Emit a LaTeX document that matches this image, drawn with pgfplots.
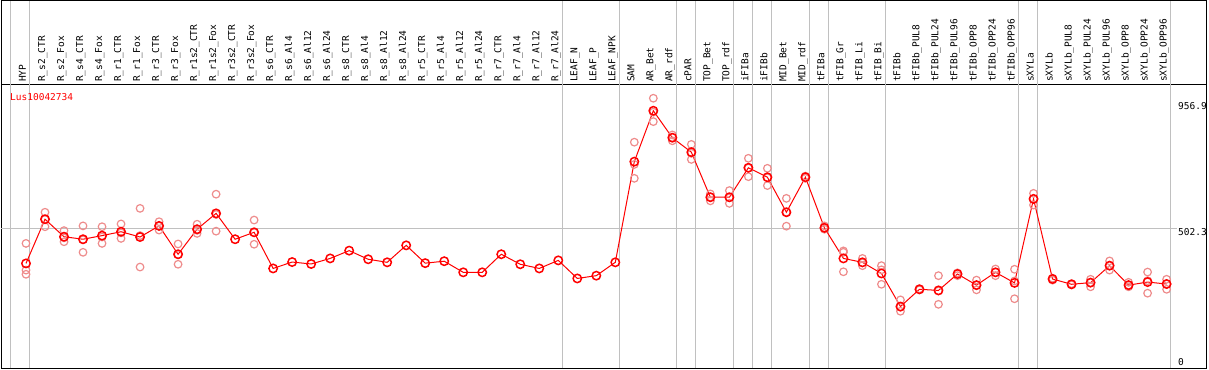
\documentclass[border=0pt]{standalone}
\usepackage{pgfplots}
\pgfplotsset{compat=1.18}
\usepackage{fontspec}
\newfontfamily\pix{DejaVu Sans Mono}
\definecolor{repc}{RGB}{238,140,140}
\definecolor{sepgray}{RGB}{192,192,192}
\begin{document}
\begin{tikzpicture}
\begin{axis}[
  at={(0,0)}, anchor=south west,
  scale only axis, width=1206bp, height=283bp,
  xmin=-1.315, xmax=62.125, ymin=0, ymax=1017.6,
  axis line style={black, line width=1bp},
  xtick={0,...,60},
  xticklabels={HYP,R\_s2\_CTR,R\_s2\_Fox,R\_s4\_CTR,R\_s4\_Fox,R\_r1\_CTR,R\_r1\_Fox,R\_r3\_CTR,R\_r3\_Fox,R\_r1s2\_CTR,R\_r1s2\_Fox,R\_r3s2\_CTR,R\_r3s2\_Fox,R\_s6\_CTR,R\_s6\_Al4,R\_s6\_Al12,R\_s6\_Al24,R\_s8\_CTR,R\_s8\_Al4,R\_s8\_Al12,R\_s8\_Al24,R\_r5\_CTR,R\_r5\_Al4,R\_r5\_Al12,R\_r5\_Al24,R\_r7\_CTR,R\_r7\_Al4,R\_r7\_Al12,R\_r7\_Al24,LEAF\_N,LEAF\_P,LEAF\_NPK,SAM,AR\_Bet,AR\_rdf,cPAR,TOP\_Bet,TOP\_rdf,iFIBa,iFIBb,MID\_Bet,MID\_rdf,tFIBa,tFIB\_Gr,tFIB\_Li,tFIB\_Bi,tFIBb,tFIBb\_PUL8,tFIBb\_PUL24,tFIBb\_PUL96,tFIBb\_OPP8,tFIBb\_OPP24,tFIBb\_OPP96,sXYLa,sXYLb,sXYLb\_PUL8,sXYLb\_PUL24,sXYLb\_PUL96,sXYLb\_OPP8,sXYLb\_OPP24,sXYLb\_OPP96},
  xticklabel pos=upper,
  major tick length=0pt,
  ytick=\empty,
  xticklabel style={yshift=3bp, rotate=90, anchor=base west, inner sep=0pt, font=\pix\fontsize{9.5bp}{10bp}\selectfont},
  clip=false,
]
\pgfplotsinvokeforeach{-0.79,0.21,28.21,31.21,34.21,35.21,37.21,38.21,39.21,41.21,42.21,45.21,52.21,53.21,60.21}{
  \draw[sepgray, line width=1bp] (axis cs:#1,0) -- ([yshift=84.5bp]axis cs:#1,1017.6);
}
\draw[sepgray, line width=1bp] (axis cs:-1.315,502.3) -- (axis cs:60.55,502.3);
\draw[black, line width=1bp] (rel axis cs:0,1) -- ([yshift=84.5bp]rel axis cs:0,1) -- ([yshift=84.5bp]rel axis cs:1,1) -- (rel axis cs:1,1);

\addplot[only marks, mark=o, mark size=3.8bp, mark options={repc, line width=1.2bp}] coordinates {
(0,448)(0,352)(0,337)
(1,560)(1,508)(1,535)
(2,494)(2,454)(2,468)
(3,511)(3,416)(3,461)
(4,508)(4,448)(4,471)
(5,518)(5,466)(5,486)
(6,574)(6,363)(6,476)
(7,526)(7,496)(7,510)
(8,446)(8,373)(8,408)
(9,517)(9,484)(9,495)
(10,625)(10,492)(10,552)
(12,532)(12,445)(12,487)
(32,812)(32,682)(32,732)
(33,970)(33,886)(33,920)
(34,838)(34,817)(34,829)
(35,804)(35,750)(35,772)
(36,626)(36,601)(36,615)
(37,638)(37,592)(37,612)
(38,754)(38,688)(38,719)
(39,718)(39,656)(39,684)
(40,610)(40,510)(40,560)
(41,690)(41,682)
(42,511)(42,499)(42,504)
(43,421)(43,346)(43,416)
(44,394)(44,368)(44,378)
(45,368)(45,301)(45,353)
(46,245)(46,204)(46,219)
(47,285)(47,281)
(48,332)(48,229)(48,277)
(49,342)(49,332)
(50,316)(50,281)(50,298)
(51,356)(51,332)(51,344)
(52,355)(52,249)(52,313)
(53,628)(53,586)(53,609)
(54,323)(54,316)
(55,303)(55,299)
(56,319)(56,292)(56,307)
(57,385)(57,352)(57,368)
(58,308)(58,292)(58,298)
(59,345)(59,269)(59,314)
(60,319)(60,283)(60,302)
};

\addplot[red, line width=1bp, mark=o, mark size=4.2bp, mark options={red, line width=1.5bp}] coordinates {
(0,376)(1,535)(2,472)(3,463)(4,476)(5,490)(6,471)(7,511)(8,409)(9,499)
(10,556)(11,463)(12,488)(13,358)(14,381)(15,374)(16,394)(17,422)(18,391)(19,380)
(20,441)(21,377)(22,384)(23,344)(24,344)(25,409)(26,373)(27,358)(28,387)(29,322)
(30,332)(31,380)(32,742)(33,925)(34,828)(35,776)(36,614)(37,614)(38,720)(39,686)
(40,560)(41,686)(42,504)(43,394)(44,380)(45,340)(46,221)(47,283)(48,279)(49,338)
(50,298)(51,344)(52,306)(53,608)(54,320)(55,301)(56,307)(57,368)(58,298)(59,309)
(60,302)
};

\node[anchor=base west, inner sep=0pt, text=red, font=\pix\fontsize{9.5bp}{10bp}\selectfont] at ([xshift=9bp, yshift=-16bp]rel axis cs:0,1) {Lus10042734};
\node[anchor=north west, inner sep=0pt, font=\pix\fontsize{9.5bp}{10bp}\selectfont] at (axis cs:60.6,956.9) {956.9};
\node[anchor=north west, inner sep=0pt, font=\pix\fontsize{9.5bp}{10bp}\selectfont] at (axis cs:60.6,502.3) {502.3};
\node[anchor=base west, inner sep=0pt, font=\pix\fontsize{9.5bp}{10bp}\selectfont] at ([yshift=3bp]axis cs:60.6,0) {0};
\end{axis}
\pgfresetboundingbox
\path[use as bounding box] (-1bp,-2bp) rectangle (1208bp,368bp);
\end{tikzpicture}
\end{document}
